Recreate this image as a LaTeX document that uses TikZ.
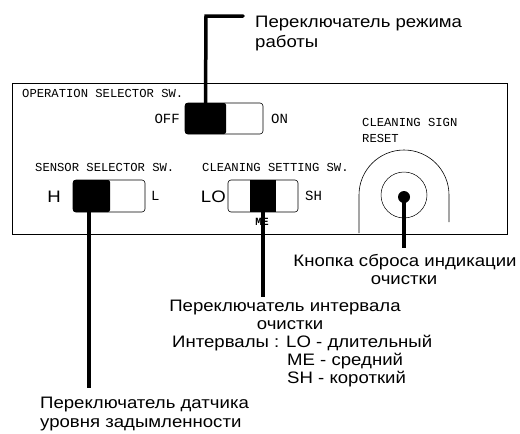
\documentclass[tikz,border=0pt]{standalone}
\usepackage{fontspec}
\setmainfont{Liberation Sans}[FakeStretch=1.12]
\newfontfamily\panelfont{Liberation Mono}
\usepackage{tikz}
\usetikzlibrary{positioning}

\tikzset{
  panel/.style={font=\panelfont\fontsize{12.2}{13}\selectfont,inner sep=0pt},
  bigpanel/.style={font=\panelfont\fontsize{14}{15}\selectfont,inner sep=0pt},
  ru/.style={font=\fontsize{16.6}{18}\selectfont,inner sep=0pt},
  switchbox/.style={draw,line width=0.6pt,rounded corners=3pt,inner sep=0pt},
  knob/.style={fill=black,rounded corners=2pt,inner sep=0pt},
  leader/.style={line width=3.5pt}
}

\begin{document}
\begin{tikzpicture}[x=1pt,y=-1pt]
\useasboundingbox (0,0) rectangle (520,434);

% panel
\draw[line width=0.6pt] (12,83) rectangle (507,234);

\node[panel,anchor=west] (opname) at (22,93) {OPERATION SELECTOR SW.};
\node[panel,anchor=west] (sensname) at (35,167) {SENSOR SELECTOR SW.};
\node[panel,anchor=west] (clname) at (202,167) {CLEANING SETTING SW.};
\node[panel,anchor=west] (signname) at (362,122) {CLEANING SIGN};
\node[panel,anchor=west] (resetname) at (362,138) {RESET};

% switches
\node[switchbox,minimum width=78pt,minimum height=31pt] (opsw) at (224,118.5) {};
\node[knob,minimum width=41pt,minimum height=31pt] (opknob) at (205.5,118.5) {};
\node[switchbox,minimum width=72pt,minimum height=32pt] (sensw) at (109,196) {};
\node[knob,minimum width=37pt,minimum height=32pt] (sensknob) at (91.5,196) {};
\node[switchbox,minimum width=70pt,minimum height=32pt] (clsw) at (263,196) {};
\node[knob,minimum width=26pt,minimum height=32pt,rounded corners=0pt] (clknob) at (263,196) {};

\node[bigpanel,anchor=east] (off) at (180,119) {OFF};
\node[bigpanel,anchor=west] (on) at (271,119) {ON};
\node[ru] (hpos) at (54,197) {H};
\node[bigpanel,anchor=west] (lpos) at (151,196) {L};
\node[ru,anchor=east] (lopos) at (226,197) {LO};
\node[bigpanel,anchor=west] (shpos) at (305,196) {SH};
\node[panel,font=\panelfont\bfseries\fontsize{11}{12}\selectfont] (mepos) at (262,222) {ME};

% reset button
\draw[line width=0.6pt] (359,233) -- (359,195) arc[start angle=180,end angle=360,radius=45] -- (449,222);
\node[circle,draw,line width=0.5pt,minimum size=46pt,inner sep=0pt] (ring) at (404,195) {};
\node[circle,fill=black,minimum size=12pt,inner sep=0pt] (dot) at (404,197) {};

% leaders
\coordinate (opbend) at (206,16);
\coordinate (optip) at (243,16);
\coordinate (sensend) at (89,388);
\coordinate (clend) at (263,297);
\coordinate (dotend) at (404,248);
\draw[leader,line cap=round] (opknob.north) -- (opbend) -- (optip);
\draw[leader] (sensknob.south -| sensend) -- (sensend);
\draw[leader] (clknob.south) -- (clend);
\draw[leader] (dot.center) -- (dotend);

% texts
\node[ru,anchor=base west] (optext) at (255,27) {Переключатель режима};
\node[ru,anchor=base west] (optext2) at (255,47) {работы};
\node[ru,anchor=base] (dottext) at (405,266) {Кнопка сброса индикации};
\node[ru,anchor=base] (dottext2) at (404,284) {очистки};
\node[ru,anchor=base] (cltext) at (285,311) {Переключатель интервала};
\node[ru,anchor=base] (cltext2) at (290,329) {очистки};
\node[ru,anchor=base west] (cltext3) at (172,347) {Интервалы : LO - длительный};
\node[ru,anchor=base west] (cltext4) at (287,365) {ME - средний};
\node[ru,anchor=base west] (cltext5) at (287,383) {SH - короткий};
\node[ru,anchor=base west] (senstext) at (40,408) {Переключатель датчика};
\node[ru,anchor=base west] (senstext2) at (40,427) {уровня задымленности};

\end{tikzpicture}
\end{document}
